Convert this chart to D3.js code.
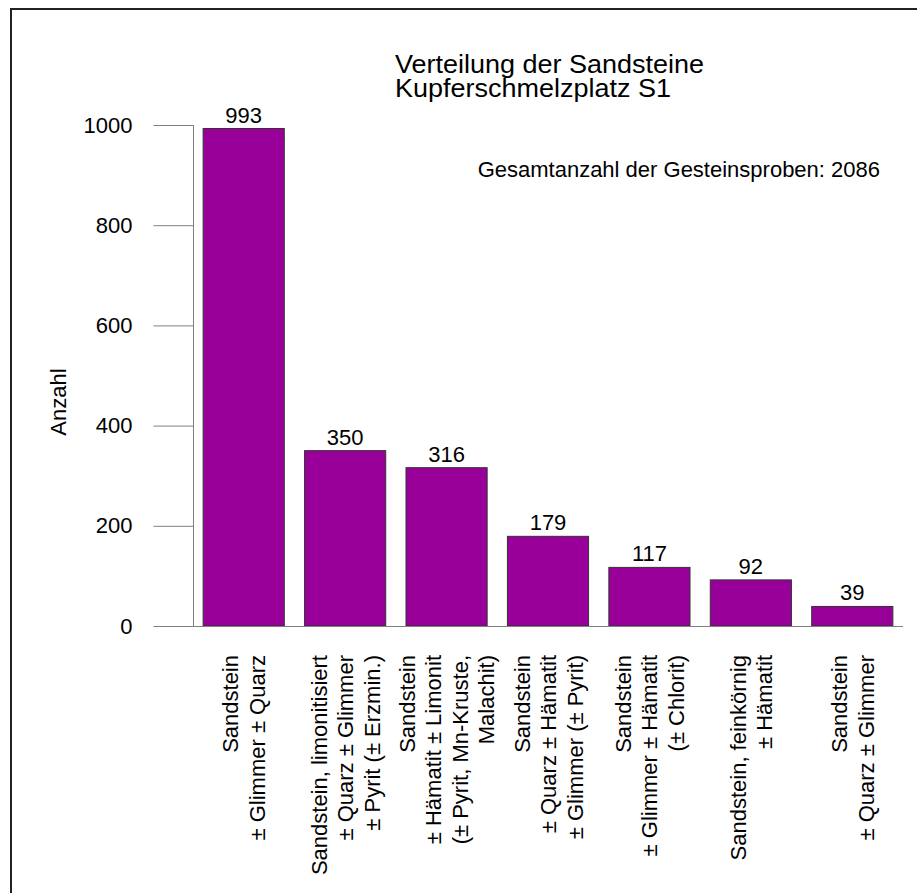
<!DOCTYPE html>
<html lang="de">
  <head>
    <meta charset="UTF-8" />
    <title>Verteilung der Sandsteine</title>
    <style>
      body { margin: 0; background: #fff; }
      text { font-family: Arial, "Liberation Sans", sans-serif; fill: #000; }
    </style>
  </head>
  <body>
    <script src="https://cdn.jsdelivr.net/npm/d3@7"></script>
    <script>
    // data
    var categories = [
      ["Sandstein", "\u00b1 Glimmer \u00b1 Quarz"],
      ["Sandstein, limonitisiert", "\u00b1 Quarz \u00b1 Glimmer", "\u00b1 Pyrit (\u00b1 Erzmin.)"],
      ["Sandstein", "\u00b1 H\u00e4matit \u00b1 Limonit", "(\u00b1 Pyrit, Mn-Kruste,", "Malachit)"],
      ["Sandstein", "\u00b1 Quarz \u00b1 H\u00e4matit", "\u00b1 Glimmer (\u00b1 Pyrit)"],
      ["Sandstein", "\u00b1 Glimmer \u00b1 H\u00e4matit", "(\u00b1 Chlorit)"],
      ["Sandstein, feink\u00f6rnig", "\u00b1 H\u00e4matit"],
      ["Sandstein", "\u00b1 Quarz \u00b1 Glimmer"]
    ];
    var counts = [993, 350, 316, 179, 117, 92, 39];
    var yTicks = [0, 200, 400, 600, 800, 1000];
    var titleLines = ["Verteilung der Sandsteine", "Kupferschmelzplatz S1"];
    var totalNote = "Gesamtanzahl der Gesteinsproben: 2086";

    var w = 917, h = 893;
    var svg = d3.select("body").append("svg")
                .attr("width", w).attr("height", h);

    // frame
    svg.append("rect")
       .attr("x", 11).attr("y", 9)
       .attr("width", w).attr("height", h)
       .attr("fill", "none")
       .attr("stroke", "#222")
       .attr("stroke-width", 2);

    var idx = d3.range(counts.length);
    var xScale = d3.scaleBand()
                   .domain(idx)
                   .range([193, 903])
                   .paddingInner(0.2)
                   .paddingOuter(0.1);
    var yScale = d3.scaleLinear()
                   .domain([0, 1000])
                   .range([626, 125]);

    // y axis
    var yAxis = d3.axisLeft(yScale)
                  .tickValues(yTicks)
                  .tickSize(40)
                  .tickPadding(21)
                  .tickFormat(d3.format("d"));
    var gy = svg.append("g")
                .attr("transform", "translate(193.5,0)")
                .call(yAxis);
    gy.select(".domain").remove();
    gy.selectAll(".tick line").attr("stroke", "#808080");
    gy.selectAll("text")
      .style("font-size", "22px")
      .attr("fill", "#000");
    svg.append("line")
       .attr("x1", 193.5).attr("x2", 193.5)
       .attr("y1", yScale(1000)).attr("y2", yScale(0))
       .attr("stroke", "#808080");

    // bars
    svg.selectAll("rect.bar")
       .data(counts)
       .enter()
       .append("rect")
       .attr("class", "bar")
       .attr("x", function(d, i) { return xScale(i); })
       .attr("y", function(d) { return yScale(d); })
       .attr("width", xScale.bandwidth())
       .attr("height", function(d) { return yScale(0) - yScale(d); })
       .attr("fill", "#990099")
       .attr("stroke", "#333")
       .attr("stroke-width", 1);

    // baseline
    svg.append("line")
       .attr("x1", 193).attr("x2", 903)
       .attr("y1", yScale(0) + 0.5).attr("y2", yScale(0) + 0.5)
       .attr("stroke", "#808080");

    // value labels
    svg.selectAll("text.val")
       .data(counts)
       .enter()
       .append("text")
       .attr("class", "val")
       .attr("x", function(d, i) { return xScale(i) + xScale.bandwidth() / 2; })
       .attr("y", function(d) { return yScale(d) - 6; })
       .attr("text-anchor", "middle")
       .style("font-size", "22px")
       .text(function(d) { return d; });

    // category labels, rotated
    var lh = 26.5;
    idx.forEach(function(i) {
      var lines = categories[i];
      var cx = xScale(i) + xScale.bandwidth() / 2;
      var x0 = cx - (lines.length - 1) * lh / 2 + 8;
      var t = svg.append("text")
                 .attr("transform", "translate(" + x0 + ",655)rotate(-90)")
                 .attr("text-anchor", "end")
                 .style("font-size", "22px");
      lines.forEach(function(s, k) {
        t.append("tspan")
         .attr("x", 0)
         .attr("y", k * lh)
         .text(s);
      });
    });

    // y title
    svg.append("text")
       .text("Anzahl")
       .attr("text-anchor", "middle")
       .style("font-size", "22px")
       .attr("transform", "translate(66,402)rotate(-90)");

    // chart title, two lines in one text (slightly wide lettering like the original)
    var title = svg.append("text")
                   .attr("class", "title")
                   .attr("transform", "translate(395,73)scale(1.08,1)")
                   .style("font-size", "25px");
    titleLines.forEach(function(s, k) {
      title.append("tspan")
           .attr("x", 0)
           .attr("y", k * 24)
           .text(s);
    });

    svg.append("text")
       .text(totalNote)
       .attr("x", 880)
       .attr("y", 177)
       .attr("text-anchor", "end")
       .style("font-size", "22px");
    </script>
  </body>
</html>
